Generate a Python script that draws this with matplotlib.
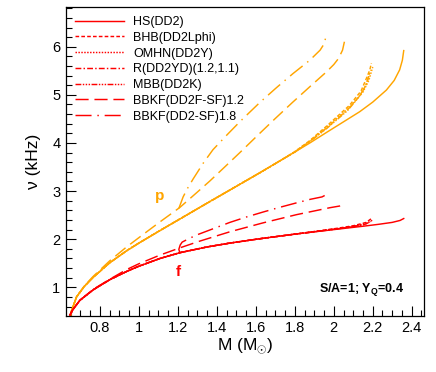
import matplotlib

matplotlib.use("Agg")
import matplotlib.pyplot as plt
from matplotlib.ticker import MultipleLocator, FormatStrFormatter

plt.rcParams["font.family"] = ["Liberation Sans", "DejaVu Sans"]
plt.rcParams["mathtext.fontset"] = "custom"
plt.rcParams["mathtext.rm"] = "Liberation Sans"
plt.rcParams["mathtext.bf"] = "Liberation Sans:bold"

RED = "#ff0000"
ORANGE = "#ffa500"

# --- f-mode (red) --------------------------------------------------------- #
m_hs_f = [0.646, 0.66, 0.697, 0.766, 0.851, 0.937, 1.0, 1.108, 1.21, 1.35,
          1.467, 1.62, 1.808, 2.0, 2.15, 2.23, 2.30, 2.34, 2.359]
f_hs = [0.42, 0.53, 0.73, 0.95, 1.16, 1.33, 1.44, 1.60, 1.72, 1.84,
        1.92, 2.01, 2.11, 2.20, 2.27, 2.31, 2.35, 2.39, 2.43]

# hyperonic / kaon models follow HS(DD2) up to ~1.8 Msun
m_bhb_f = [1.90, 2.022, 2.10, 2.167, 2.193]
f_bhb = [2.16, 2.23, 2.28, 2.35, 2.43]
m_omhn_f = [1.90, 2.02, 2.10, 2.17, 2.20]
f_omhn = [2.16, 2.22, 2.27, 2.33, 2.40]
m_r_f = [1.90, 2.00, 2.10, 2.16, 2.19]
f_r = [2.155, 2.21, 2.26, 2.31, 2.37]
m_mbb_f = [1.90, 2.00, 2.08, 2.15, 2.18]
f_mbb = [2.155, 2.205, 2.25, 2.30, 2.35]

m_bbkf12_f = [0.646, 0.66, 0.697, 0.766, 0.851, 0.937, 1.0, 1.108, 1.21, 1.304,
              1.415, 1.467, 1.637, 1.808, 1.98, 2.03, 2.056]
f_bbkf12 = [0.42, 0.53, 0.73, 0.96, 1.17, 1.37, 1.49, 1.67, 1.82, 1.95,
            2.09, 2.155, 2.34, 2.51, 2.655, 2.69, 2.73]

m_bbkf18_f = [1.21, 1.205, 1.212, 1.222, 1.26, 1.304, 1.415, 1.467, 1.55, 1.637,
              1.72, 1.808, 1.88, 1.94, 1.963]
f_bbkf18 = [1.72, 1.79, 1.88, 1.94, 2.02, 2.10, 2.27, 2.35, 2.46, 2.565,
            2.66, 2.755, 2.83, 2.88, 2.93]

# --- p-mode (orange) ------------------------------------------------------ #
m_hs_p = [0.65, 0.655, 0.68, 0.72, 0.766, 0.85, 0.937, 1.0, 1.108, 1.21, 1.35,
          1.5, 1.62, 1.72, 1.877, 1.963, 2.05, 2.133, 2.2, 2.27, 2.31, 2.338,
          2.352, 2.359]
p_hs = [0.42, 0.52, 0.80, 1.02, 1.21, 1.51, 1.76, 1.92, 2.18, 2.42, 2.75,
        3.10, 3.38, 3.62, 4.00, 4.22, 4.44, 4.65, 4.85, 5.10, 5.30, 5.52,
        5.72, 5.92]

m_bhb_p = [1.80, 1.877, 1.963, 2.08, 2.14, 2.167, 2.185, 2.193]
p_bhb = [3.82, 4.05, 4.35, 4.78, 5.08, 5.34, 5.52, 5.66]
m_omhn_p = [1.80, 1.877, 1.963, 2.08, 2.15, 2.18, 2.20]
p_omhn = [3.82, 4.04, 4.33, 4.74, 5.06, 5.30, 5.58]
m_r_p = [1.80, 1.877, 1.963, 2.07, 2.14, 2.17, 2.19]
p_r = [3.81, 4.03, 4.31, 4.69, 5.01, 5.25, 5.52]
m_mbb_p = [1.80, 1.877, 1.963, 2.07, 2.13, 2.165, 2.185]
p_mbb = [3.81, 4.03, 4.30, 4.67, 4.96, 5.21, 5.47]

m_bbkf12_p = [0.65, 0.655, 0.68, 0.72, 0.766, 0.85, 0.937, 1.022, 1.108, 1.21,
              1.30, 1.364, 1.44, 1.518, 1.62, 1.70, 1.79, 1.88, 1.963, 2.0,
              2.025, 2.045, 2.056]
p_bbkf12 = [0.42, 0.52, 0.80, 1.03, 1.23, 1.55, 1.84, 2.10, 2.36, 2.66,
            2.98, 3.21, 3.50, 3.80, 4.20, 4.51, 4.85, 5.18, 5.48, 5.63,
            5.76, 5.93, 6.13]

m_bbkf18_p = [1.205, 1.227, 1.25, 1.278, 1.33, 1.38, 1.45, 1.52, 1.62, 1.706,
              1.79, 1.877, 1.93, 1.952, 1.963]
p_bbkf18 = [2.64, 2.88, 3.06, 3.25, 3.58, 3.86, 4.16, 4.45, 4.84, 5.15,
            5.44, 5.72, 5.93, 6.07, 6.28]

labels = ["HS(DD2)", "BHB(DD2Lphi)", "OMHN(DD2Y)", "R(DD2YD)(1.2,1.1)",
          "MBB(DD2K)", "BBKF(DD2F-SF)1.2", "BBKF(DD2-SF)1.8"]
styles = ["-", (0, (2.5, 1.5)), (0, (1, 1)), (0, (4, 1.5, 1, 1.5)),
          (0, (4, 1, 1, 1, 1, 1, 1, 1)), (0, (9, 4)), (0, (11, 4, 1, 4))]


def with_hs_head(m_hs, v_hs, m_tail, v_tail):
    """Prepend the HS(DD2) part below the start of the tail."""
    head = [(m, v) for m, v in zip(m_hs, v_hs) if m < m_tail[0]]
    return [h[0] for h in head] + m_tail, [h[1] for h in head] + v_tail


f_curves = [
    (m_hs_f, f_hs),
    with_hs_head(m_hs_f, f_hs, m_bhb_f, f_bhb),
    with_hs_head(m_hs_f, f_hs, m_omhn_f, f_omhn),
    with_hs_head(m_hs_f, f_hs, m_r_f, f_r),
    with_hs_head(m_hs_f, f_hs, m_mbb_f, f_mbb),
    (m_bbkf12_f, f_bbkf12),
    (m_bbkf18_f, f_bbkf18),
]
p_curves = [
    (m_hs_p, p_hs),
    with_hs_head(m_hs_p, p_hs, m_bhb_p, p_bhb),
    with_hs_head(m_hs_p, p_hs, m_omhn_p, p_omhn),
    with_hs_head(m_hs_p, p_hs, m_r_p, p_r),
    with_hs_head(m_hs_p, p_hs, m_mbb_p, p_mbb),
    (m_bbkf12_p, p_bbkf12),
    (m_bbkf18_p, p_bbkf18),
]

fig = plt.figure(figsize=(4.36, 3.72), dpi=100)
ax = fig.add_axes([66 / 436, 1 - 315.5 / 372, (424 - 66) / 436, (315.5 - 7.3) / 372])

for (m, v), ls in zip(p_curves, styles):
    ax.plot(m, v, color=ORANGE, ls=ls, lw=1.05)
for (m, v), ls, lab in zip(f_curves, styles, labels):
    ax.plot(m, v, color=RED, ls=ls, lw=1.05, label=lab)

ax.set_xlim(0.626, 2.463)
ax.set_ylim(0.415, 6.82)
ax.xaxis.set_major_locator(MultipleLocator(0.2))
ax.xaxis.set_minor_locator(MultipleLocator(0.05))
ax.yaxis.set_major_locator(MultipleLocator(1))
ax.yaxis.set_minor_locator(MultipleLocator(0.2))
ax.xaxis.set_major_formatter(FormatStrFormatter("%g"))
ax.tick_params(which="both", direction="in", top=False, right=False, labelsize=10.5, pad=4)
ax.tick_params(which="major", length=7, width=0.8)
ax.tick_params(which="minor", length=4, width=0.8)
for s in ax.spines.values():
    s.set_linewidth(0.9)

ax.set_xlabel(r"M (M$_{\odot}$)", fontsize=12.5, labelpad=1)
ax.set_ylabel("\u03bd (kHz)", fontsize=12.5, labelpad=8)

ax.text(1.108, 2.90, "p", color=ORANGE, fontsize=11, fontweight="bold",
        ha="center", va="center")
ax.text(1.20, 1.32, "f", color=RED, fontsize=11, fontweight="bold",
        ha="center", va="center")
ax.text(2.36, 0.96, r"S/A=1; Y$_{\mathbf{Q}}$=0.4", fontsize=9, fontweight="bold",
        ha="right", va="center")

ax.legend(loc="upper left", frameon=False, fontsize=9, handlelength=3.9,
          handletextpad=0.8, labelspacing=0.3, borderaxespad=0.3,
          bbox_to_anchor=(0.0, 1.0))

fig.savefig("out.png", dpi=100)
